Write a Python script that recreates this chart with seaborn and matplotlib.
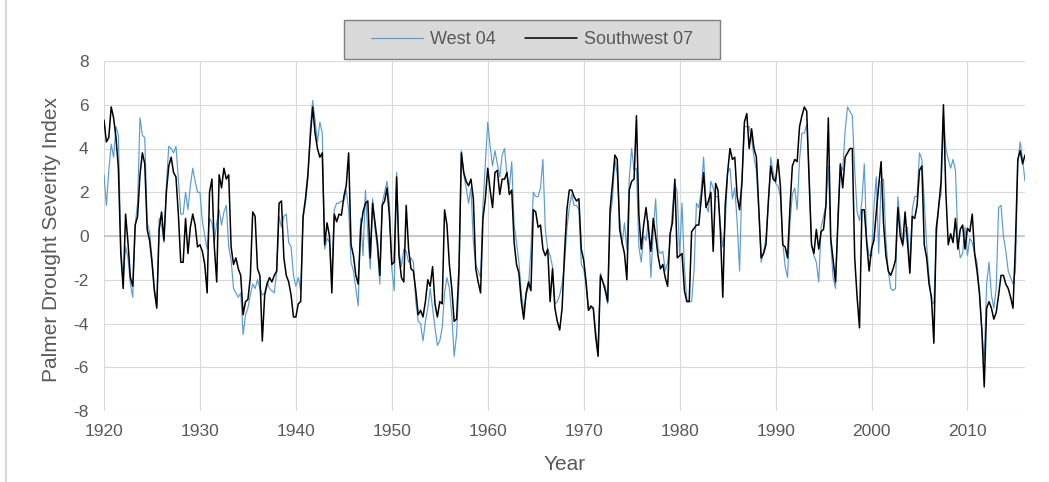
import numpy as np
import pandas as pd
import matplotlib
matplotlib.use("Agg")
import matplotlib.pyplot as plt
from matplotlib.patches import Rectangle
from matplotlib.lines import Line2D
import seaborn as sns

# Quarterly Palmer Drought Severity Index readings, 1920.00 .. 2016.00
START_YEAR = 1920
STEP = 0.25

west_04_1920s = [2.8, 1.4, 3.0, 4.2, 3.6, 5.0, 4.6, -0.5, -2.0, -0.5, -1.0, -2.2, -2.8, 0.5, 1.5, 5.4,
                 4.6, 4.5, 0.6, 0.2, -1.0, -2.4, -3.2, 0.8, 0.5, -0.3, 2.3, 4.1, 4.0, 3.8, 4.1, 2.6,
                 1.0, 1.0, 2.0, 1.2, 2.3, 3.1, 2.5, 2.0]
west_04_1930s = [2.0, 0.7, 0.0, -0.6, 0.8, 0.6, -0.3, 0.6, 1.2, 0.5, 1.1, 1.4, -0.5, -1.1, -2.4, -2.6,
                 -2.8, -2.6, -4.5, -3.6, -3.3, -2.7, -2.2, -2.4, -2.0, -2.4, -2.7, -2.6, -2.1, -2.4, -2.5, -2.6,
                 -1.6, 0.9, 0.4, 0.9, 1.0, -0.3, -0.5, -1.8]
west_04_1940s = [-2.3, -1.9, -2.5, 0.8, 1.5, 2.6, 4.9, 6.2, 5.3, 4.3, 5.2, 4.7, -0.6, -0.1, -0.3, -1.9,
                 1.2, 1.5, 1.5, 1.6, 1.6, 2.1, 1.2, -1.2, -1.6, -2.4, -3.2, 0.8, -0.9, 2.1, 0.1, -1.5,
                 1.7, 0.3, -0.6, -2.2, 1.5, 2.0, 2.5, 1.5]
west_04_1950s = [-1.5, -2.5, 2.9, -0.7, -1.4, -0.6, -0.7, -1.2, -1.0, -1.2, -3.0, -3.9, -4.0, -4.8, -3.9, -3.3,
                 -2.4, -3.3, -4.2, -5.0, -4.8, -4.2, -2.6, -1.9, -2.4, -3.6, -5.5, -4.5, -2.2, 3.9, 2.8, 2.2,
                 1.5, 2.2, -0.3, -1.3, -1.6, -1.9, 1.4, 3.3]
west_04_1960s = [5.2, 4.1, 3.2, 3.9, 3.3, 2.7, 3.7, 4.0, 2.8, 2.2, 3.4, 0.5, -0.3, -1.2, -2.6, -3.4,
                 -2.7, -2.3, -0.6, 2.0, 1.8, 1.8, 2.2, 3.5, 0.3, -0.6, -0.9, -1.4, -3.1, -3.0, -2.7, -2.2,
                 -1.3, 0.35, 1.3, 1.9, 1.4, 1.4, 1.2, -1.3]
west_04_1970s = [-1.5, -2.3, -3.4, -3.3, -3.3, -4.3, -5.2, -1.7, -2.1, -2.3, -3.1, 0.8, 1.7, 3.5, 2.8, 0.8,
                 -0.4, 0.6, -0.6, 2.6, 4.0, 3.0, 3.1, -0.5, -1.2, 0.0, -0.2, 0.7, -1.9, 0.2, 1.7, -0.6,
                 -0.8, -0.7, -1.6, -1.2, -0.3, 1.2, 2.4, 2.0]
west_04_1980s = [-0.9, 1.5, -1.5, -2.9, -3.0, -3.0, -1.6, 1.5, 1.3, 2.1, 3.6, 1.4, 1.1, 2.5, 2.2, 1.8,
                 1.8, 0.5, -0.5, 0.5, 2.9, 3.1, 1.7, 2.2, 0.6, -1.6, 2.6, 5.0, 5.0, 5.0, 4.5, 3.6,
                 3.0, 1.1, -1.2, -0.7, -0.1, 1.5, 3.6, 2.9]
west_04_1990s = [2.4, 2.3, 1.8, -0.3, -1.4, -1.9, 0.6, 1.9, 2.2, 1.2, 3.5, 4.7, 4.7, 5.1, 3.0, -0.4,
                 -0.9, -1.2, -2.1, 0.4, 0.9, 1.4, 3.2, -0.3, -1.9, -2.4, 1.0, 3.2, 3.0, 4.8, 5.9, 5.7,
                 5.5, 3.0, 1.1, 0.7, 1.6, 3.3, -0.2, -0.9]
west_04_2000s = [-0.9, 1.3, 2.7, -0.8, 2.5, 2.6, -0.2, -1.6, -2.4, -2.5, -2.4, 1.8, 0.6, -0.5, 0.2, 0.4,
                 -1.5, 1.2, 1.8, 1.8, 3.8, 3.5, 1.6, -0.4, -1.9, -3.0, -3.1, -0.3, 1.5, 1.9, 5.5, 4.0,
                 3.5, 3.1, 3.5, 3.0, -0.1, -1.0, -0.8, 0.4]
west_04_2010s = [-0.9, -0.1, -0.3, -0.8, -1.2, -2.6, -4.3, -5.7, -2.2, -1.2, -2.7, -3.3, -2.4, 1.3, 1.4, 0.0,
                 -0.7, -1.6, -1.9, -2.2, -1.6, 3.4, 4.3, 3.5, 2.5]

southwest_07_1920s = [5.3, 4.3, 4.5, 5.9, 5.4, 4.5, 3.1, -0.8, -2.4, 1.0, -0.3, -1.9, -2.3, 0.5, 0.9, 2.8,
                      3.8, 3.3, 0.3, -0.2, -1.2, -2.5, -3.3, 0.3, 1.1, -0.2, 2.0, 3.2, 3.6, 2.9, 2.7, 1.0,
                      -1.2, -1.2, 0.8, -0.8, 0.4, 1.0, 0.5, -0.5]
southwest_07_1930s = [-0.4, -0.7, -1.3, -2.6, 2.0, 2.6, -0.5, -2.1, 2.8, 2.2, 3.1, 2.6, 2.8, -0.5, -1.3, -1.0,
                      -1.5, -1.8, -3.6, -3.0, -2.9, -1.9, 1.1, 0.9, -1.5, -1.8, -4.8, -2.7, -2.2, -1.9, -2.1, -1.8,
                      -1.6, 1.5, 1.6, -1.0, -1.8, -2.1, -2.7, -3.7]
southwest_07_1940s = [-3.7, -3.1, -3.0, 0.9, 1.7, 2.8, 4.5, 5.9, 4.7, 4.0, 3.6, 3.8, -0.4, 0.6, 0.0, -2.6,
                      1.0, 0.65, 1.0, 0.95, 1.8, 2.3, 3.8, -0.4, -0.9, -1.8, -2.2, 0.3, 1.1, 1.5, 1.6, -1.0,
                      1.5, 0.6, -0.3, -1.8, 1.4, 1.6, 2.2, 0.9]
southwest_07_1950s = [-1.3, -1.2, 2.7, -0.9, -1.9, -2.1, 1.4, -0.6, -1.5, -1.6, -2.5, -3.6, -3.4, -3.7, -3.0, -2.0,
                      -2.3, -1.4, -3.1, -3.7, -3.0, -3.1, 1.2, 0.5, -1.3, -2.4, -3.9, -3.8, -1.5, 3.8, 2.9, 2.5,
                      2.3, 2.6, 1.7, -1.5, -2.1, -2.6, 0.8, 1.7]
southwest_07_1960s = [3.1, 2.1, 1.3, 2.9, 3.0, 1.9, 2.6, 2.6, 2.9, 1.9, 2.1, -0.3, -1.3, -1.7, -3.0, -3.8,
                      -2.6, -2.1, -2.5, 1.2, 1.1, 0.4, 0.5, -0.6, -0.9, -0.6, -3.0, -1.5, -3.3, -3.9, -4.3, -3.3,
                      -0.8, 1.2, 2.1, 2.1, 1.8, 1.6, 1.7, -0.6]
southwest_07_1970s = [-1.1, -2.1, -3.4, -3.2, -3.3, -4.6, -5.5, -1.8, -2.1, -2.5, -3.0, 1.2, 2.4, 3.7, 3.5, 0.3,
                      -0.3, -0.8, -2.0, 2.1, 2.5, 2.6, 5.5, 1.0, -0.6, 0.5, 1.3, 0.3, -0.7, 0.8, 0.0, -0.9,
                      -1.5, -1.3, -1.9, -2.3, 0.1, 0.6, 2.6, -1.0]
southwest_07_1980s = [-0.9, -0.8, -2.5, -3.0, -3.0, 0.2, 0.35, 0.5, 0.5, 1.7, 2.9, 1.3, 1.6, 2.0, -0.7, 2.4,
                      2.1, 0.2, -2.8, 1.4, 2.9, 4.0, 3.5, 3.6, 1.8, 1.2, 2.5, 5.2, 5.6, 4.0, 4.9, 4.0,
                      3.6, 1.3, -1.0, -0.8, -0.4, 1.6, 3.2, 2.6]
southwest_07_1990s = [2.5, 3.5, 2.3, -0.4, -0.5, -1.0, 1.3, 3.2, 3.5, 3.4, 5.0, 5.5, 5.9, 5.7, 2.5, -0.4,
                      -0.8, 0.3, -0.6, 0.2, 0.3, 1.4, 5.4, -0.1, -1.1, -2.1, 0.6, 3.3, 2.2, 3.6, 3.8, 4.0,
                      4.0, -1.0, -2.8, -4.2, 1.2, 1.2, -0.3, -1.6]
southwest_07_2000s = [-0.6, -0.2, 1.1, 2.3, 3.4, 0.6, -0.9, -1.6, -1.8, -1.5, -1.1, 1.3, 0.0, -0.4, 1.1, -0.3,
                      -1.7, 0.9, 0.8, 1.4, 3.0, 3.2, -0.4, -1.0, -2.2, -2.8, -4.9, 0.35, 1.3, 2.5, 6.0, 2.0,
                      -0.4, 0.1, -0.3, 0.8, -0.6, 0.3, 0.5, -0.6]
southwest_07_2010s = [0.35, 0.2, 1.0, -0.8, -1.6, -2.6, -4.3, -6.9, -3.3, -3.0, -3.3, -3.8, -3.5, -2.7, -1.8, -1.8,
                      -2.2, -2.4, -2.8, -3.3, -0.4, 3.5, 3.9, 3.3, 3.7]

x_ticks = list(range(1920, 2011, 10))
y_ticks = list(range(-8, 9, 2))

west_04 = (west_04_1920s + west_04_1930s + west_04_1940s + west_04_1950s + west_04_1960s
           + west_04_1970s + west_04_1980s + west_04_1990s + west_04_2000s + west_04_2010s)
southwest_07 = (southwest_07_1920s + southwest_07_1930s + southwest_07_1940s + southwest_07_1950s
                + southwest_07_1960s + southwest_07_1970s + southwest_07_1980s + southwest_07_1990s
                + southwest_07_2000s + southwest_07_2010s)
years = START_YEAR + STEP * np.arange(len(west_04))

df = pd.DataFrame({
    "Year": np.concatenate([years, years]),
    "PDSI": west_04 + southwest_07,
    "Division": ["West 04"] * len(west_04) + ["Southwest 07"] * len(southwest_07),
})

sns.set_theme(style="white")
plt.rcParams["font.family"] = ["Liberation Sans", "DejaVu Sans"]
plt.rcParams["axes.unicode_minus"] = False

TEXT = "#595959"
GRID = "#d9d9d9"
colors = {"West 04": "#5b9bd5", "Southwest 07": "#000000"}
widths = {"West 04": 0.85, "Southwest 07": 1.1}

W, H = 1049, 482
fig = plt.figure(figsize=(W / 100, H / 100), dpi=100)
ax = fig.add_axes([104 / W, 1 - 411 / H, (1025 - 104) / W, (411 - 61) / H])

for name in ["West 04", "Southwest 07"]:
    sns.lineplot(data=df[df["Division"] == name], x="Year", y="PDSI", ax=ax,
                 color=colors[name], linewidth=widths[name], estimator=None,
                 errorbar=None, legend=False)

ax.set_xlim(1920, 2016)
ax.set_ylim(-8, 8)
ax.set_xticks(x_ticks)
ax.set_yticks(y_ticks)
ax.set_axisbelow(True)
ax.grid(True, color=GRID, linewidth=0.8)
ax.axhline(0, color="#bfbfbf", linewidth=1.1, zorder=1)
for s in ax.spines.values():
    s.set_visible(False)
ax.tick_params(axis="both", length=0, labelcolor=TEXT, labelsize=12.5)
ax.tick_params(axis="y", pad=11)
ax.tick_params(axis="x", pad=9)

ax.set_xlabel("Year", fontsize=15, color=TEXT, va="center")
ax.set_ylabel("Palmer Drought Severity Index", fontsize=15, color=TEXT, va="center")
ax.xaxis.set_label_coords((565 - 104) / (1025 - 104), -(465 - 411) / (411 - 61))
ax.yaxis.set_label_coords(-(104 - 52) / (1025 - 104), (411 - 239) / (411 - 61))

# legend box above the plot area
fig.add_artist(Rectangle((344 / W, 1 - 59 / H), 376 / W, 39 / H, transform=fig.transFigure,
                         facecolor="#d9d9d9", edgecolor="#7f7f7f", linewidth=1.0, zorder=1))
handles = [Line2D([], [], color=colors[n], linewidth=widths[n]) for n in ["West 04", "Southwest 07"]]
fig.legend(handles, ["West 04", "Southwest 07"], loc="center",
           bbox_to_anchor=(532 / W, 1 - 39.5 / H), ncol=2, frameon=False, fontsize=13,
           handlelength=2.9, handletextpad=0.4, columnspacing=1.6, labelcolor=TEXT)

# chart-area frame edge on the left
fig.add_artist(Line2D([5.5 / W, 5.5 / W], [0, 1], transform=fig.transFigure,
                      color=GRID, linewidth=1.5))

fig.savefig("out.png", dpi=100)
